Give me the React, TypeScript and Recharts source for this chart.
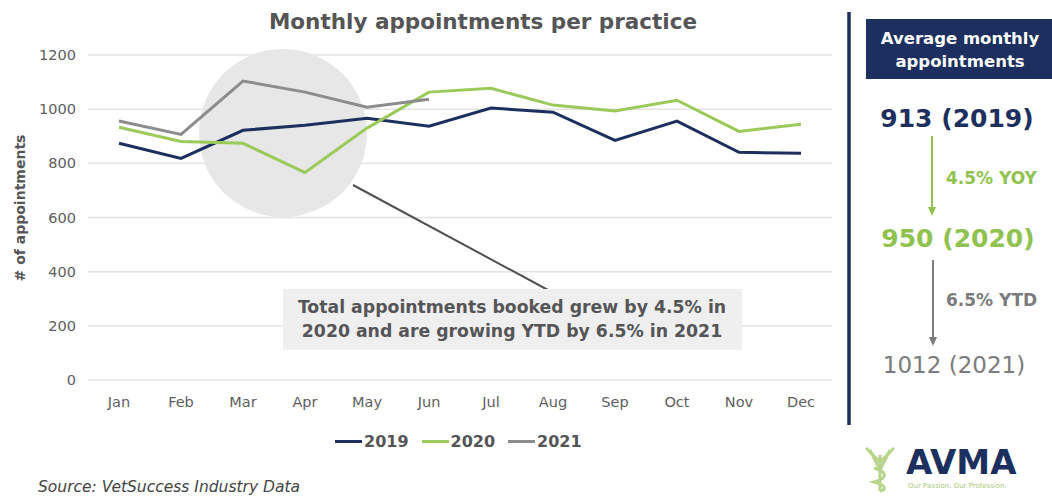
import { LineChart, Line, XAxis, YAxis, CartesianGrid, Legend, Customized } from 'recharts';

const months = ['Jan', 'Feb', 'Mar', 'Apr', 'May', 'Jun', 'Jul', 'Aug', 'Sep', 'Oct', 'Nov', 'Dec'];
const appts2019 = [874, 818, 922, 941, 966, 937, 1004, 989, 885, 956, 841, 837];
const appts2020 = [933, 881, 874, 766, 930, 1063, 1077, 1015, 993, 1033, 918, 944];
const appts2021 = [956, 907, 1104, 1063, 1007, 1037];
const yTicks = [0, 200, 400, 600, 800, 1000, 1200];

const series = [
  { key: 'y2019', name: '2019', color: '#1c2f5e' },
  { key: 'y2020', name: '2020', color: '#9bc95a' },
  { key: 'y2021', name: '2021', color: '#8c8c8e' },
];

const data = months.map((m, i) => ({
  month: m,
  y2019: appts2019[i],
  y2020: appts2020[i],
  y2021: i < appts2021.length ? appts2021[i] : null,
}));

const FONT = '"DejaVu Sans", "Noto Sans", sans-serif';
const NAVY = '#1c2f5e';
const GREEN = '#8fc24f';
const GREY = '#7b7b7d';
const TEXT = '#555557';
const LEGEND_H = 20;

// grey highlight circle behind the Mar-May lines
function Highlight() {
  return <circle cx={283} cy={133} r={84} fill="#e7e7e7" />;
}

function LegendRow(props: any) {
  const { payload } = props;
  return (
    <div
      style={{
        display: 'flex',
        gap: 13,
        height: LEGEND_H,
        alignItems: 'center',
        fontFamily: FONT,
        fontWeight: 700,
        fontSize: 16,
        color: TEXT,
      }}
    >
      {payload.map((p: any) => (
        <div key={p.value} style={{ display: 'flex', alignItems: 'center' }}>
          <span style={{ display: 'inline-block', width: 27, height: 3, background: p.color, marginRight: 2 }} />
          {p.value}
        </div>
      ))}
    </div>
  );
}

export default function App() {
  return (
    <div style={{ position: 'absolute', left: 0, top: 0, width: 1052, height: 497, background: '#fff', fontFamily: FONT }}>
      <LineChart width={1052} height={497} data={data} margin={{ top: 55, right: 220, bottom: 117 - 30 - LEGEND_H, left: 28 }}>
        <Customized component={Highlight} />
        <CartesianGrid vertical={false} stroke="#e4e4e4" strokeWidth={1.5} />
        <XAxis
          dataKey="month"
          height={30}
          axisLine={false}
          tickLine={false}
          padding={{ left: 31, right: 31 }}
          tick={{ fontSize: 14.5, fill: '#5e5e60', fontFamily: FONT }}
          tickMargin={11}
        />
        <YAxis
          domain={[0, 1200]}
          ticks={yTicks}
          width={60}
          axisLine={false}
          tickLine={false}
          tick={{ fontSize: 14.5, fill: '#5e5e60', fontFamily: FONT }}
          tickMargin={6}
        />
        {series.map((s) => (
          <Line
            key={s.key}
            type="linear"
            dataKey={s.key}
            name={s.name}
            stroke={s.color}
            strokeWidth={3}
            dot={false}
            activeDot={false}
            connectNulls={false}
            isAnimationActive={false}
          />
        ))}
        <Legend content={LegendRow} wrapperStyle={{ position: 'absolute', left: 335, top: 431, width: 300, height: LEGEND_H }} />
      </LineChart>

      <svg width={1052} height={497} style={{ position: 'absolute', left: 0, top: 0, pointerEvents: 'none' }}>
        <text x={483} y={29} textAnchor="middle" fontSize={21.5} fontWeight={700} fill={TEXT} fontFamily={FONT}>
          Monthly appointments per practice
        </text>
        <text
          transform="translate(25,208) rotate(-90)"
          textAnchor="middle"
          fontSize={14}
          fontWeight={700}
          fill={TEXT}
          fontFamily={FONT}
        >
          # of appointments
        </text>

        {/* annotation */}
        <line x1={353} y1={185} x2={548} y2={290} stroke="#505052" strokeWidth={2} />
        <rect x={283} y={289} width={459} height={61} fill="#efefef" />
        <text x={512} y={313} textAnchor="middle" fontSize={17.3} fontWeight={700} fill={TEXT} fontFamily={FONT}>
          Total appointments booked grew by 4.5% in
        </text>
        <text x={512} y={337} textAnchor="middle" fontSize={17.3} fontWeight={700} fill={TEXT} fontFamily={FONT}>
          2020 and are growing YTD by 6.5% in 2021
        </text>

        <text x={38} y={492} fontSize={15.5} fontStyle="italic" fill="#444" fontFamily={FONT}>
          Source: VetSuccess Industry Data
        </text>

        {/* right panel */}
        <line x1={849} y1={12} x2={849} y2={425} stroke={NAVY} strokeWidth={3.5} />
        <rect x={866} y={19} width={186} height={60} fill={NAVY} />
        <text x={960} y={44} textAnchor="middle" fontSize={16.5} fontWeight={700} fill="#fff" fontFamily={FONT}>
          Average monthly
        </text>
        <text x={960} y={67} textAnchor="middle" fontSize={16.5} fontWeight={700} fill="#fff" fontFamily={FONT}>
          appointments
        </text>
        <text x={957} y={127} textAnchor="middle" fontSize={25} fontWeight={700} fill={NAVY} fontFamily={FONT}>
          913 (2019)
        </text>
        <line x1={932} y1={136} x2={932} y2={212} stroke={GREEN} strokeWidth={2} />
        <path d="M928,207 L932,216 L936,207 Z" fill={GREEN} />
        <text x={946} y={184} fontSize={17} fontWeight={700} fill={GREEN} fontFamily={FONT}>
          4.5% YOY
        </text>
        <text x={958} y={247} textAnchor="middle" fontSize={25} fontWeight={700} fill={GREEN} fontFamily={FONT}>
          950 (2020)
        </text>
        <line x1={933} y1={260} x2={933} y2={342} stroke={GREY} strokeWidth={2} />
        <path d="M929,337 L933,346 L937,337 Z" fill={GREY} />
        <text x={946} y={306} fontSize={17} fontWeight={700} fill={GREY} fontFamily={FONT}>
          6.5% YTD
        </text>
        <text x={954} y={373} textAnchor="middle" fontSize={23} fill={GREY} fontFamily={FONT}>
          1012 (2021)
        </text>

        {/* AVMA logo */}
        <g fill="none" stroke="#b6d58a" strokeWidth={3}>
          <path d="M866,448 L880,462 L894,448" />
          <path d="M870,450 L880,470 L890,450" />
          <line x1={880} y1={455} x2={880} y2={491} />
          <path d="M874,468 C888,472 888,478 874,482 C888,486 886,490 880,491" />
        </g>
        <text x={906} y={474} fontSize={34} fontWeight={700} fill={NAVY} fontFamily={FONT}>
          AVMA
        </text>
        <text x={908} y={488} fontSize={7} fill="#a9c97a" fontFamily={FONT}>
          Our Passion. Our Profession.
        </text>
      </svg>
    </div>
  );
}
